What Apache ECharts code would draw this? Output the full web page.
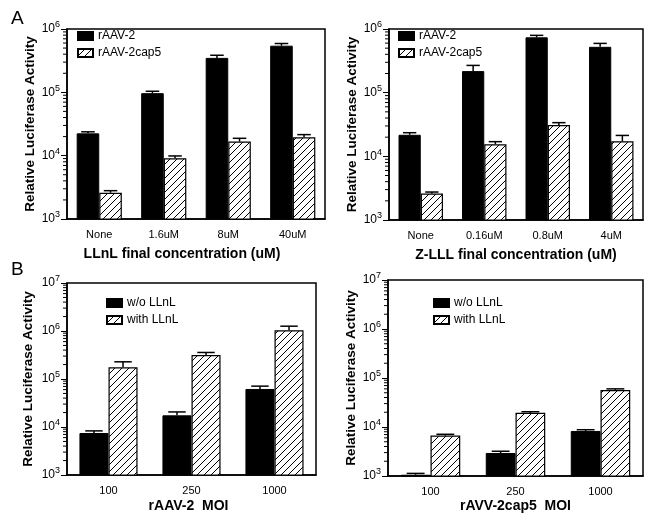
<!DOCTYPE html>
<html lang="en">
<head>
    <meta charset="UTF-8">
    <title>Luciferase</title>
    <style>
        html, body { margin: 0; padding: 0; background: #fff; }
        #main { width: 653px; height: 520px; }
    </style>
</head>
<body>
    <div id="main"></div>
    <script src="https://cdn.jsdelivr.net/npm/echarts@6/dist/echarts.min.js"></script>
    <script>
        // panel A left - LLnL
        var catsA1 = ['None', '1.6uM', '8uM', '40uM'];
        var a1Black = [22500, 97000, 350000, 545000];
        var a1BlackErr = [23800, 104000, 385000, 590000];
        var a1Hatch = [2600, 9100, 16700, 19500];
        var a1HatchErr = [2800, 9900, 18800, 21500];

        // panel A right - Z-LLL
        var catsA2 = ['None', '0.16uM', '0.8uM', '4uM'];
        var a2Black = [21800, 218000, 740000, 525000];
        var a2BlackErr = [23500, 268000, 795000, 594000];
        var a2Hatch = [2600, 15500, 31000, 17200];
        var a2HatchErr = [2750, 17000, 33800, 21300];

        // panel B - MOI
        var catsB = ['100', '250', '1000'];
        var b1Black = [7500, 17500, 62000];
        var b1BlackErr = [8300, 20600, 71000];
        var b1Hatch = [175000, 315000, 1040000];
        var b1HatchErr = [228000, 357000, 1260000];
        var b2Black = [1060, 2950, 8300];
        var b2BlackErr = [1130, 3200, 8800];
        var b2Hatch = [6700, 19500, 57000];
        var b2HatchErr = [7100, 20500, 60000];

        var namesA = ['rAAV-2', 'rAAV-2cap5'];
        var namesB = ['w/o LLnL', 'with LLnL'];

        // log minor tick positions (2..9 x 10^n)
        function minorTicks(maxExp) {
            var t = [];
            for (var e = 3; e < maxExp; e++) {
                for (var k = 2; k <= 9; k++) t.push([0, k * Math.pow(10, e)]);
            }
            return t;
        }
        var minorA = minorTicks(6);
        var minorB = minorTicks(7);

        // hatch pattern "/"
        var pat = document.createElement('canvas');
        pat.width = 7;
        pat.height = 7;
        var ctx = pat.getContext('2d');
        ctx.fillStyle = '#fff';
        ctx.fillRect(0, 0, 7, 7);
        ctx.strokeStyle = '#000';
        ctx.lineWidth = 1;
        ctx.beginPath();
        ctx.moveTo(-1, 8); ctx.lineTo(8, -1);
        ctx.moveTo(-1, 1); ctx.lineTo(1, -1);
        ctx.moveTo(6, 8); ctx.lineTo(8, 6);
        ctx.stroke();

        var font = 'Liberation Sans, Arial, sans-serif';

        var grids = [
            { left: 67, top: 29, width: 258, height: 190 },
            { left: 389, top: 29, width: 254, height: 191 },
            { left: 67, top: 283, width: 249, height: 192 },
            { left: 388, top: 280, width: 255, height: 196 }
        ];
        grids.forEach(function(g) {
            g.show = true;
            g.borderColor = '#000';
            g.borderWidth = 1.5;
            g.backgroundColor = 'transparent';
        });

        function xAx(i, cats, name, pad, gap) {
            return {
                type: 'category',
                gridIndex: i,
                data: cats,
                name: name,
                nameLocation: 'middle',
                nameGap: gap,
                nameTextStyle: { fontFamily: font, fontWeight: 'bold', fontSize: 14, color: '#000', padding: pad },
                axisLine: { lineStyle: { color: '#000', width: 1.5 } },
                axisTick: { alignWithLabel: true, length: 4, lineStyle: { color: '#000' } },
                axisLabel: { fontFamily: font, fontSize: 11, color: '#000', margin: 10 },
                splitLine: { show: false }
            };
        }

        function yAx(i, max, gap) {
            return {
                type: 'log',
                logBase: 10,
                gridIndex: i,
                min: 1000,
                max: max,
                name: 'Relative Luciferase Activity',
                nameLocation: 'middle',
                nameGap: gap,
                nameTextStyle: { fontFamily: font, fontWeight: 'bold', fontSize: 13.5, color: '#000' },
                axisLine: { show: true, lineStyle: { color: '#000', width: 1.5 } },
                axisTick: { show: true, length: 6, lineStyle: { color: '#000' } },
                splitLine: { show: false },
                axisLabel: {
                    margin: 7,
                    color: '#000',
                    formatter: function(v) {
                        return '{b|10}{s|' + Math.round(Math.log10(v)) + '}';
                    },
                    rich: {
                        b: { fontFamily: font, fontSize: 12, color: '#000' },
                        s: { fontFamily: font, fontSize: 9, color: '#000', padding: [0, 0, 8, 0] }
                    }
                }
            };
        }

        function errRender(side) {
            return function(params, api) {
                var band = api.size([1, api.value(1)])[0];
                var bw = band * 0.35;
                var base = api.coord([api.value(0), api.value(1)]);
                var top = api.coord([api.value(0), api.value(2)]);
                var x = base[0] + side * bw / 2;
                var half = bw * 0.3;
                var st = { stroke: '#000', lineWidth: 1.5 };
                return {
                    type: 'group',
                    children: [
                        { type: 'line', shape: { x1: x, y1: base[1], x2: x, y2: top[1] }, style: st },
                        { type: 'line', shape: { x1: x - half, y1: top[1], x2: x + half, y2: top[1] }, style: st }
                    ]
                };
            };
        }

        // short minor ticks to the left of the y axis line
        function minorRender(params, api) {
            var p = api.coord([0, api.value(1)]);
            var half = api.size([1, api.value(1)])[0] / 2;
            var x = p[0] - half;
            return {
                type: 'line',
                shape: { x1: x - 4, y1: p[1], x2: x, y2: p[1] },
                style: { stroke: '#000', lineWidth: 1 }
            };
        }

        function pairs(vals, errs) {
            var out = [];
            for (var i = 0; i < vals.length; i++) {
                out.push([i, vals[i], errs[i]]);
            }
            return out;
        }

        var series = [];

        function addPanel(i, names, black, blackErr, hatch, hatchErr, minor) {
            series.push({
                name: names[0], type: 'bar', xAxisIndex: i, yAxisIndex: i,
                data: black, barWidth: '35%', barGap: '0%',
                itemStyle: { color: '#000', borderColor: '#000', borderWidth: 1 }
            });
            series.push({
                name: names[1], type: 'bar', xAxisIndex: i, yAxisIndex: i,
                data: hatch, barWidth: '35%', barGap: '0%',
                itemStyle: { color: { image: pat, repeat: 'repeat' }, borderColor: '#000', borderWidth: 1.2 }
            });
            series.push({
                type: 'custom', xAxisIndex: i, yAxisIndex: i, z: 5,
                renderItem: errRender(-1), data: pairs(black, blackErr)
            });
            series.push({
                type: 'custom', xAxisIndex: i, yAxisIndex: i, z: 5,
                renderItem: errRender(1), data: pairs(hatch, hatchErr)
            });
            series.push({
                type: 'custom', xAxisIndex: i, yAxisIndex: i, z: 5, clip: false, silent: true,
                renderItem: minorRender, data: minor
            });
        }

        addPanel(0, namesA, a1Black, a1BlackErr, a1Hatch, a1HatchErr, minorA);
        addPanel(1, namesA, a2Black, a2BlackErr, a2Hatch, a2HatchErr, minorA);
        addPanel(2, namesB, b1Black, b1BlackErr, b1Hatch, b1HatchErr, minorB);
        addPanel(3, namesB, b2Black, b2BlackErr, b2Hatch, b2HatchErr, minorB);

        function leg(names, left, top) {
            return {
                data: names,
                orient: 'vertical',
                left: left,
                top: top,
                itemWidth: 15,
                itemHeight: 8,
                itemGap: 5,
                padding: 0,
                selectedMode: false,
                icon: 'rect',
                textStyle: { fontFamily: font, fontSize: 12, color: '#000' }
            };
        }

        var myChart = echarts.init(document.getElementById('main'));
        var option = {
            animation: false,
            backgroundColor: '#fff',
            title: [
                { text: 'A', left: 6, top: 4, textStyle: { fontFamily: font, fontWeight: 'normal', fontSize: 19, color: '#000' } },
                { text: 'B', left: 6, top: 255, textStyle: { fontFamily: font, fontWeight: 'normal', fontSize: 19, color: '#000' } }
            ],
            legend: [
                leg(namesA, 77, 30),
                leg(namesA, 398, 30),
                leg(namesB, 106, 297),
                leg(namesB, 433, 297)
            ],
            grid: grids,
            xAxis: [
                xAx(0, catsA1, 'LLnL final concentration (uM)', [0, 28, 0, 0], 28),
                xAx(1, catsA2, 'Z-LLL final concentration (uM)', [0, 0, 0, 0], 28),
                xAx(2, catsB, 'rAAV-2  MOI', [0, 6, 0, 0], 24),
                xAx(3, catsB, 'rAVV-2cap5  MOI', [0, 0, 0, 0], 23)
            ],
            yAxis: [
                yAx(0, 1000000, 30),
                yAx(1, 1000000, 28),
                yAx(2, 10000000, 32),
                yAx(3, 10000000, 26)
            ],
            series: series
        };
        myChart.setOption(option);
    </script>
</body>
</html>
